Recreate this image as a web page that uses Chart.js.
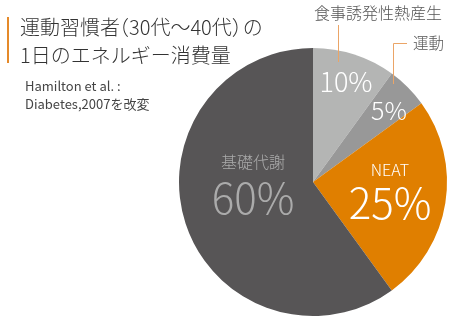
<!DOCTYPE html>
<html lang="ja">
<head>
<meta charset="utf-8">
<script src="https://cdn.jsdelivr.net/npm/chart.js@4"></script>
<style>
  body { margin: 0; background: #fff; }
  #wrap { width: 470px; height: 325px; }
</style>
</head>
<body>
<div id="wrap"><canvas id="energyChart" width="470" height="325"></canvas></div>
<script>
// 1日のエネルギー消費量の内訳 (%)
const categories = ["食事誘発性熱産生", "運動", "NEAT", "基礎代謝"];
const shares = [10, 5, 25, 60];
const sliceColors = ["#b4b5b4", "#989898", "#e07f00", "#575556"];

const titleLines = ["運動習慣者（30代～40代）の", "1日のエネルギー消費量"];
const sourceLines = ["Hamilton et al. :", "Diabetes,2007を改変"];

const FONT = '"Noto Sans CJK JP", "Noto Sans", sans-serif';

// 全角括弧を詰めて1行描く (palt 相当)
function drawTight(ctx, text, x, y) {
    for (const ch of text) {
        const w = ctx.measureText(ch).width;
        if (ch === "（") {
            ctx.fillText(ch, x - w * 0.55, y);
            x += w * 0.45;
        } else if (ch === "）") {
            ctx.fillText(ch, x, y);
            x += w * 0.55;
        } else {
            ctx.fillText(ch, x, y);
            x += w;
        }
    }
}

// タイトル・出典・スライス内のラベルを描く
const labelPlugin = {
    id: "labels",
    afterDraw(chart) {
        const ctx = chart.ctx;
        ctx.save();

        // 見出し
        ctx.fillStyle = "#e58a2a";
        ctx.fillRect(7, 17, 2, 46);
        ctx.fillStyle = "#333";
        ctx.font = "300 20px " + FONT;
        ctx.textBaseline = "middle";
        ctx.textAlign = "left";
        drawTight(ctx, titleLines[0], 20, 27);
        ctx.fillText(titleLines[1], 20, 55);

        ctx.fillStyle = "#444";
        ctx.font = "400 13px " + FONT;
        ctx.fillText(sourceLines[0], 25, 86);
        ctx.fillText(sourceLines[1], 25, 104);

        // 外側ラベル(小さいスライス)
        ctx.fillStyle = "#555";
        ctx.font = "300 16px " + FONT;
        ctx.textAlign = "center";
        ctx.fillText(categories[0], 378, 13);
        ctx.textAlign = "left";
        ctx.font = "300 15.5px " + FONT;
        ctx.fillText(categories[1], 413, 43);

        ctx.strokeStyle = "#eba567";
        ctx.lineWidth = 1;
        ctx.beginPath();
        ctx.moveTo(338.5, 25);
        ctx.lineTo(338.5, 62);
        ctx.moveTo(407, 43.5);
        ctx.lineTo(393.5, 43.5);
        ctx.lineTo(393.5, 84);
        ctx.stroke();

        // スライス内の数値
        const pct = i => shares[i] + "%";
        ctx.textAlign = "center";
        ctx.fillStyle = "#fff";
        ctx.font = "300 27px " + FONT;
        ctx.fillText(pct(0), 346, 82);
        ctx.font = "300 25px " + FONT;
        ctx.fillText(pct(1), 389, 110);
        ctx.font = "300 16px " + FONT;
        ctx.fillText(categories[2], 390, 170);
        ctx.font = "300 42px " + FONT;
        ctx.fillText(pct(2), 390, 203);

        ctx.fillStyle = "#ababab";
        ctx.font = "300 16px " + FONT;
        ctx.fillText(categories[3], 253, 162);
        ctx.font = "300 42px " + FONT;
        ctx.fillText(pct(3), 253, 198);

        ctx.restore();
    }
};

new Chart(document.getElementById("energyChart").getContext("2d"), {
    type: "pie",
    data: {
        labels: categories,
        datasets: [{
            data: shares,
            backgroundColor: sliceColors,
            borderWidth: 0
        }]
    },
    options: {
        responsive: false,
        animation: false,
        layout: { padding: { left: 179, right: 23, top: 48, bottom: 9 } },
        plugins: {
            legend: { display: false },
            tooltip: { enabled: false }
        }
    },
    plugins: [labelPlugin]
});
</script>
</body>
</html>
